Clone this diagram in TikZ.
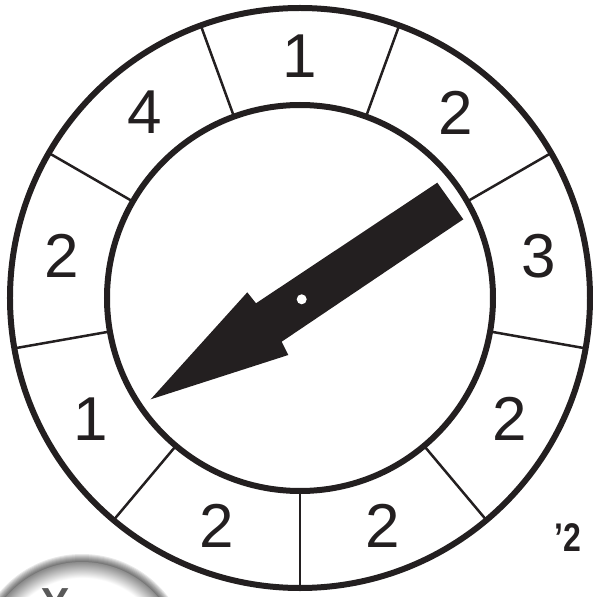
\documentclass[tikz,border=0pt]{standalone}
\usepackage{fontspec}
\setmainfont{Liberation Sans}
\newfontfamily\narrowfont{Liberation Sans}[FakeStretch=0.8]
\definecolor{ink}{HTML}{231F20}
\pgfdeclareradialshading{buttonface}{\pgfpoint{0bp}{0bp}}{color(0bp)=(white); color(21bp)=(white); color(25bp)=(black!45); color(50bp)=(black!45)}

\begin{document}
\begin{tikzpicture}[x=1pt, y=1pt,
  rim/.style={draw=ink, line width=6pt},
  divider/.style={draw=ink, line width=2.5pt},
  score/.style={font=\fontsize{62}{62}\selectfont, text=ink, inner sep=0pt}]
\useasboundingbox (-300,-299) rectangle (293,298);
\clip (-300,-299) rectangle (293,298);
% spinner rings and sectors
\draw[rim] (0,0) circle (290);
\draw[rim] (0,0) circle (193);
\foreach \a in {30,70,...,350}
  \draw[divider] (\a:193) -- (\a:290);
% sector numbers, clockwise from the top
\foreach \n [count=\i] in {1,2,3,2,2,2,1,2,4}
  \node[score] (s\i) at ({130-40*\i}:242) {\n};
% pointer
\fill[ink] (137.3,115.3) -- (-44,-5.3) -- (-52.7,5.7) -- (-149.3,-101.3)
  -- (-11.7,-57) -- (-18.3,-43.7) -- (163.3,78.7) -- cycle;
\fill[white] (1.7,-1.3) circle (5);
% page mark
\node[font=\narrowfont\bfseries\fontsize{40}{40}\selectfont, text=ink] (mark) at (268,-240) {’2};
% cut-off button
\foreach \k in {1,...,8}
  \fill[black, opacity=0.09] (-218,-364) circle ({109-\k});
\shade[shading=buttonface] (-218,-364) circle (100);
\node[font=\fontsize{42}{42}\selectfont\bfseries, text=black!65] (ykey) at (-244,-305) {Y};
\end{tikzpicture}
\end{document}
